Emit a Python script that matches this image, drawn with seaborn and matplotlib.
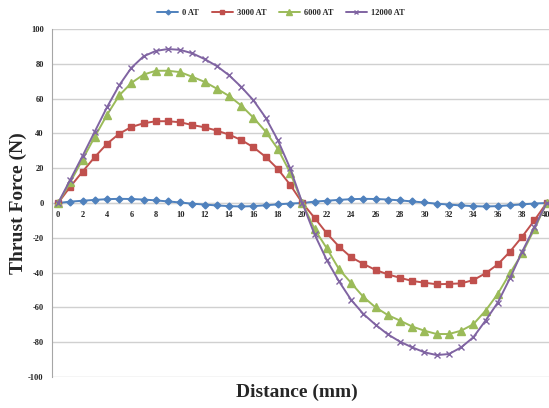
import matplotlib
matplotlib.use("Agg")
import matplotlib.pyplot as plt
import seaborn as sns
import numpy as np
import pandas as pd

distance = list(range(0, 41))
x_ticks = list(range(0, 41, 2))
y_ticks = list(range(-100, 101, 20))

series_names = ["0 AT", "3000 AT", "6000 AT", "12000 AT"]

at_0 = [0, 0.8, 1.3, 1.8, 2.2, 2.4, 2.3, 2.0, 1.5, 0.9, 0.3, -0.4, -0.9, -1.4, -1.8,
        -2.0, -1.8, -1.3, -0.8, -0.3, 0, 0.8, 1.3, 1.8, 2.2, 2.4, 2.3, 2.0, 1.5, 0.9,
        0.3, -0.4, -0.9, -1.4, -1.8, -2.0, -1.8, -1.3, -0.8, -0.3, 0]
at_3000 = [0, 9.4, 18, 26.4, 34, 39.8, 43.7, 45.8, 47, 47, 46.4, 44.8, 43.5, 41.6, 39.3,
           36.2, 32, 26.5, 19.5, 10.5, 0, -8.5, -17.4, -25, -31.2, -35, -38.5, -41, -43,
           -44.8, -45.8, -46.7, -46.5, -46.2, -44.3, -40.4, -35.3, -28, -19.4, -10, 0]
at_6000 = [0, 12, 25, 38, 50.6, 61.8, 69, 73.8, 76, 76, 75.2, 72.5, 69.6, 65.7, 61.5,
           56, 49, 41, 31, 17.5, 0, -15, -26, -38, -46, -54, -60, -64.4, -67.6, -71,
           -73.4, -75.3, -75.3, -73.4, -69.7, -61.9, -52.3, -40.4, -29, -15, 0]
at_12000 = [0, 13.4, 27, 41, 55, 67.6, 77.7, 84.3, 87.4, 88.5, 88, 86, 82.7, 78.7, 73.4,
            66.7, 59, 49, 36, 20, 0, -18, -32.8, -45, -55.7, -63.8, -70, -75.5, -79.7,
            -83, -85.8, -87.4, -86.8, -83, -77.2, -67.6, -57.3, -43.3, -28, -14, 0]

values = [at_0, at_3000, at_6000, at_12000]
colors = ["#4F81BD", "#C0504D", "#9BBB59", "#8064A2"]
markers = ["D", "s", "^", "x"]
msizes = [3.5, 5, 5.5, 5]

sns.set_style("white")
plt.rcParams["font.family"] = ["Liberation Serif", "DejaVu Serif"]

fig = plt.figure(figsize=(5.49, 4.08), dpi=100)
ax = fig.add_axes([52 / 549, 1 - 377 / 408, 1 - 52 / 549, (377 - 29) / 408])

for name, vals, c, m, ms in zip(series_names, values, colors, markers, msizes):
    df = pd.DataFrame({"Distance": distance, "Force": vals})
    sns.lineplot(data=df, x="Distance", y="Force", ax=ax, color=c, marker=m,
                 markersize=ms, markeredgecolor=c, markerfacecolor=c,
                 markeredgewidth=1.0, linewidth=1.4, label=name)

ax.set_xlim(-0.5, 40.2)
ax.set_ylim(-100, 100)
ax.set_xticks(x_ticks)
ax.set_yticks(y_ticks)
ax.set_xticklabels([str(t) for t in x_ticks])
ax.set_yticklabels([str(t) for t in y_ticks])
ax.yaxis.grid(True, color="#D0D0D0", linewidth=1.0)
ax.xaxis.grid(False)
ax.set_axisbelow(True)

for s in ["top", "right"]:
    ax.spines[s].set_visible(False)
ax.spines["left"].set_color("#A6A6A6")
ax.spines["bottom"].set_color("#A6A6A6")
ax.spines["bottom"].set_position(("data", 0))
ax.spines["bottom"].set_zorder(0.5)

ax.tick_params(axis="both", labelsize=6, colors="#222222", length=3, width=0.8,
               direction="out", pad=3)
ax.tick_params(axis="both", color="#A6A6A6")
for lab in ax.get_xticklabels() + ax.get_yticklabels():
    lab.set_fontweight("bold")

ax.set_xlabel("")
ax.set_ylabel("")
fig.text(18 / 549, 1 - 203 / 408, "Thrust Force (N)", rotation=90, ha="center",
         va="center", fontsize=14, fontweight="bold")
fig.text(297 / 549, 1 - 392 / 408, "Distance (mm)", ha="center", va="center",
         fontsize=14, fontweight="bold")

handles, labels = ax.get_legend_handles_labels()
ax.get_legend().remove()
fig.legend(handles, labels, loc="center", bbox_to_anchor=(281 / 549, 1 - 13 / 408),
           ncol=4, frameon=False, prop={"size": 6, "weight": "bold"},
           handlelength=2.5, columnspacing=1.5, handletextpad=0.5, markerscale=0.7)

fig.savefig("out.png", dpi=100)
